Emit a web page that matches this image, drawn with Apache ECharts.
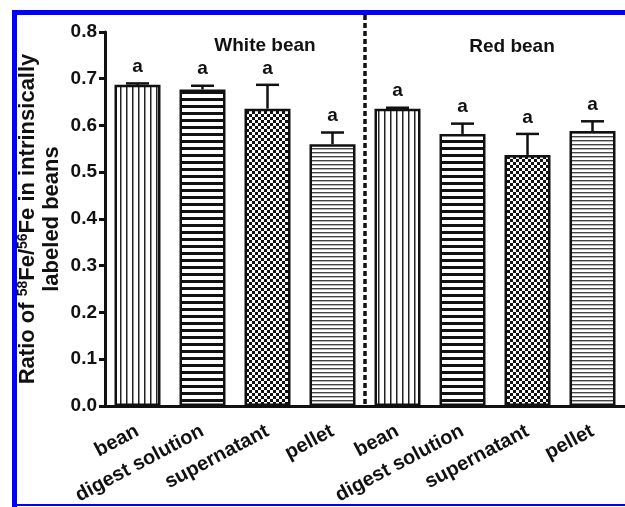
<!DOCTYPE html>
<html>
<head>
<meta charset="utf-8">
<script src="https://cdn.jsdelivr.net/npm/echarts@6/dist/echarts.min.js"></script>
<style>
html,body{margin:0;padding:0;background:#fff;}
#main{width:625px;height:507px;}
</style>
</head>
<body>
<div id="main"></div>
<script>
// ---- data ----
const categories = ['bean', 'digest solution', 'supernatant', 'pellet', 'bean', 'digest solution', 'supernatant', 'pellet'];
const means = [0.687, 0.677, 0.636, 0.560, 0.636, 0.582, 0.537, 0.588];
const errors = [0.003, 0.008, 0.051, 0.025, 0.002, 0.022, 0.045, 0.021];
const sigLetters = ['a', 'a', 'a', 'a', 'a', 'a', 'a', 'a'];
const groupTitles = ['White bean', 'Red bean'];
const yTicks = [0, 0.1, 0.2, 0.3, 0.4, 0.5, 0.6, 0.7, 0.8];
const yTitle = 'Ratio of {sup|58}Fe/{sup|56}Fe in intrinsically\nlabeled beans';

// ---- patterns ----
function makePattern(type) {
  const c = document.createElement('canvas');
  const ctx = c.getContext('2d');
  if (type === 'vert') {
    c.width = 6; c.height = 6;
    ctx.fillStyle = '#fff'; ctx.fillRect(0, 0, 6, 6);
    ctx.fillStyle = '#222'; ctx.fillRect(0, 0, 1.5, 6);
  } else if (type === 'hthick') {
    c.width = 7; c.height = 7;
    ctx.fillStyle = '#fff'; ctx.fillRect(0, 0, 7, 7);
    ctx.fillStyle = '#111'; ctx.fillRect(0, 0, 7, 3);
  } else if (type === 'checker') {
    c.width = 6; c.height = 6;
    ctx.fillStyle = '#111'; ctx.fillRect(0, 0, 6, 6);
    ctx.fillStyle = '#fff'; ctx.fillRect(0, 0, 3, 3); ctx.fillRect(3, 3, 3, 3);
  } else {
    c.width = 4; c.height = 4;
    ctx.fillStyle = '#fff'; ctx.fillRect(0, 0, 4, 4);
    ctx.fillStyle = '#444'; ctx.fillRect(0, 0, 4, 1.4);
  }
  return { image: c, repeat: 'repeat' };
}
const patternTypes = ['vert', 'hthick', 'checker', 'hthin'];
const patterns = patternTypes.map(makePattern);

const chart = echarts.init(document.getElementById('main'), null, { renderer: 'canvas' });
const FONT = 'Liberation Sans, Arial, sans-serif';

const option = {
  animation: false,
  backgroundColor: '#fff',
  grid: { left: 105, top: 32, bottom: 98, width: 530, containLabel: false },
  xAxis: {
    type: 'category',
    data: categories,
    axisLine: { lineStyle: { color: '#111', width: 3 } },
    axisTick: { alignWithLabel: true, length: 6, lineStyle: { color: '#111', width: 3 } },
    axisLabel: {
      interval: 0, rotate: 28, margin: 24,
      color: '#111', fontFamily: FONT, fontWeight: 'bold', fontSize: 20
    }
  },
  yAxis: {
    type: 'value',
    min: yTicks[0], max: yTicks[yTicks.length - 1], interval: 0.1,
    name: yTitle,
    nameLocation: 'middle',
    nameGap: 41,
    nameMoveOverlap: false,
    nameTextStyle: {
      color: '#111', fontFamily: FONT, fontWeight: 'bold', fontSize: 22, lineHeight: 24, align: 'center',
      rich: {
        sup: { fontFamily: FONT, fontWeight: 'bold', fontSize: 14, color: '#111', verticalAlign: 'top', lineHeight: 24 }
      }
    },
    axisLine: { show: true, lineStyle: { color: '#111', width: 3 } },
    axisTick: { show: true, length: 6, lineStyle: { color: '#111', width: 3 } },
    splitLine: { show: false },
    axisLabel: {
      margin: 8, color: '#111', fontFamily: FONT, fontWeight: 'bold', fontSize: 19,
      formatter: v => v.toFixed(1)
    }
  },
  series: [
    {
      type: 'bar',
      barWidth: 46,
      data: means.map((v, i) => ({
        value: v,
        itemStyle: { color: patterns[i % 4], borderColor: '#111', borderWidth: 2.5 }
      })),
      z: 2
    },
    {
      type: 'custom',
      data: means.map((v, i) => [i, v, errors[i], sigLetters[i]]),
      z: 3,
      renderItem: function (params, api) {
        const x = api.value(0);
        const m = api.value(1);
        const e = api.value(2);
        const p0 = api.coord([x, m]);
        const p1 = api.coord([x, m + e]);
        const hw = 11.5;
        return {
          type: 'group',
          children: [
            { type: 'line', shape: { x1: p0[0], y1: p0[1], x2: p1[0], y2: p1[1] }, style: { stroke: '#111', lineWidth: 2.5 } },
            { type: 'line', shape: { x1: p1[0] - hw, y1: p1[1], x2: p1[0] + hw, y2: p1[1] }, style: { stroke: '#111', lineWidth: 2.5 } },
            { type: 'text', x: p1[0], y: p1[1] - 7,
              style: { text: sigLetters[params.dataIndex], fill: '#111', font: 'bold 19px ' + FONT, textAlign: 'center', textVerticalAlign: 'bottom' } }
          ]
        };
      }
    }
  ],
  graphic: [
    { type: 'rect', shape: { x: 12, y: 10, width: 620, height: 5 }, style: { fill: '#0000ff' }, z: 10 },
    { type: 'rect', shape: { x: 12, y: 10, width: 5, height: 497 }, style: { fill: '#0000ff' }, z: 10 },
    { type: 'rect', shape: { x: 12, y: 504, width: 620, height: 2 }, style: { fill: '#0000ff' }, z: 10 },
    { type: 'text', x: 265, y: 46, style: { text: groupTitles[0], fill: '#111', font: 'bold 19px ' + FONT, textAlign: 'center', textVerticalAlign: 'middle' } },
    { type: 'text', x: 512, y: 47, style: { text: groupTitles[1], fill: '#111', font: 'bold 19px ' + FONT, textAlign: 'center', textVerticalAlign: 'middle' } }
  ]
};
chart.setOption(option);

// dashed separator between the two bean groups
const xa = chart.convertToPixel({ xAxisIndex: 0 }, 3);
const xb = chart.convertToPixel({ xAxisIndex: 0 }, 4);
const y0 = chart.convertToPixel({ yAxisIndex: 0 }, 0);
const sepX = (xa + xb) / 2;
option.graphic.push({
  type: 'line', z: 5,
  shape: { x1: sepX, y1: 15, x2: sepX, y2: y0 },
  style: { stroke: '#111', lineWidth: 3.5, lineDash: [5, 3] }
});
chart.setOption({ graphic: option.graphic });
</script>
</body>
</html>
